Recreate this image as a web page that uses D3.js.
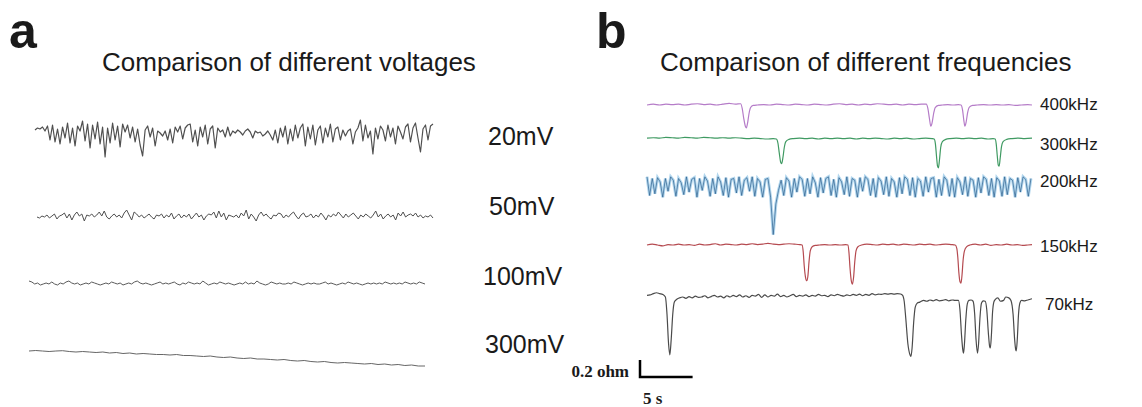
<!DOCTYPE html>
<html>
<head>
<meta charset="utf-8">
<script src="https://cdn.jsdelivr.net/npm/d3@7"></script>
<style>
  body { margin: 0; background: #fff; }
  text { font-family: Arial, "Liberation Sans", sans-serif; fill: #1a1a1a; }
  .serif { font-family: "Times New Roman", "Liberation Serif", serif; font-weight: bold; }
</style>
</head>
<body>
<div id="chart"></div>
<script>
// ---- panel a : voltage comparison (arbitrary units, positive = up) ----
const voltageLabels = ["20mV", "50mV", "100mV", "300mV"];

const trace20mV = [
  4, 6, 5, 7, 3, 8, -6, 9, -8, 5,
  -10, 7, -4, 11, -9, 6, -12, 8, 3, 13,
  -7, 10, -14, 9, -5, 12, -10, 7, -23, 6,
  -9, 11, -6, 8, -13, 10, 2, 9, -4, 7,
  -8, 5, -11, -22, 4, 8, -3, 6, -12, 3,
  1, -2, 3, -6, 5, -9, 7, 2, 8, -5,
  6, 9, 10, -8, 4, -12, 7, -3, 9, -10,
  5, 8, -14, 6, 2, 4, -3, 7, -2, 3,
  1, 4, 2, -1, 3, 5, 2, -4, 3, 1,
  2, -2, 0, 3, -1, -6, 4, -9, 6, -3,
  8, -10, 5, -7, 9, -4, 6, 10, -12, 7,
  -5, 9, -11, 4, 8, -9, 6, -3, 10, -8,
  5, 7, -6, 4, -2, 3, 5, -10, 2, 6,
  14, -7, 9, -4, 3, -20, 6, -5, 8, 4,
  -7, 9, -3, 6, -10, 8, 2, -5, 7, 10,
  -8, 6, 11, -4, -18, 5, 9, -6, 8, 10
];

const trace50mV = [
  0, -1, 1, 0, 2, -1, 1, 3, -2, 1,
  2, 4, -1, 3, -3, 2, 5, 1, 3, -4,
  2, 1, 3, 0, 2, 5, 1, 6, 0, -2,
  1, 3, 0, 2, -1, 4, 7, 2, -3, 5,
  3, 0, 2, -1, 1, 3, 0, -2, 2, 1,
  3, -1, 2, 0, 4, -2, 1, 3, -1, 2,
  0, 3, -2, 1, 4, 0, 2, -3, 1, 3,
  2, 5, -1, 6, 0, 4, -3, 2, 1, 0,
  2, -1, 4, 1, 7, -2, 3, 0, -4, 2,
  5, 1, 3, 0, -2, 2, 1, 4, 3, -1,
  2, 0, 3, 5, 1, -2, 2, 4, 0, 1,
  3, -1, 2, 0, 4, 1, -3, 2, 0, 3,
  1, 5, 2, -1, 3, 0, 2, 4, 1, -2,
  2, 0, 3, 1, -1, 2, 6, 0, 3, -2,
  1, 3, 0, 2, -3, 4, 1, 5, 0, 2,
  3, 1, 4, 0, 2, -1, 1, 0, 2, -1
];

const trace100mV = [
  3, 2, 0, 1, -1, 0, 1, 0, 2, 0,
  -1, 1, 0, 2, 3, 1, 0, 1, -1, 0,
  1, 0, 2, 1, 0, -1, 0, 1, 0, 2,
  1, 0, 1, -1, 0, 1, 0, 2, 3, 1,
  0, 1, 0, -1, 0, 1, 2, 0, 1, 0,
  1, 2, 0, -1, 1, 0, 2, 1, 0, 1,
  0, 3, 1, -1, 0, 1, 0, 2, 1, 0,
  1, 0, -1, 0, 1, 0, 2, 0, 1, 0,
  3, 1, 0, -1, 0, 2, 1, 0, 1, 0,
  0, 1, 0, 2, 1, 0, -1, 0, 1, 0,
  1, 0, 0, 1, 2, 0, 1, 0, -1, 0,
  1, 0, 2, 1, 0, 1, 0, -1, 0, 1,
  0, 1, 0, 1, 0, 2, 1, 0, 1, 0,
  1, 0, 2, 1, 0, 1, 0, 2, 1, 0
];

const trace300mV = [
  0, 0.5, 0, -0.5, 0, 0.3, -0.5, -1, -0.5, -1,
  -1.5, -1, -2, -1.5, -2.5, -2, -3, -2.5, -3, -3.5,
  -3.5, -4, -3.5, -4.5, -4.5, -5, -5.5, -5, -6, -6.5,
  -6, -7, -7.5, -7, -8, -8, -8.5, -9, -8.5, -9.5,
  -10, -9.5, -10.5, -11, -10.5, -11.5, -12, -11.5, -12, -12.5,
  -13, -12.5, -13.5, -13, -14, -13.5, -14.5, -14, -15, -15
];

// ---- panel b : frequency comparison, [time s, resistance change ohm] ----
const frequencyLabels = ["400kHz", "300kHz", "200kHz", "150kHz", "70kHz"];

const trace400kHz = [
  [0,0],[0.6,0.01],[1.2,0],[1.8,0.01],[2.4,0.005],[3.0,0.01],[3.6,0],[4.2,0.01],[4.8,0.015],[5.4,0.005],
  [6.0,0.01],[6.6,0],[7.2,0.01],[7.8,0.02],[8.4,0.01],[8.9,0.015],
  [9.05,-0.04],[9.2,-0.16],[9.35,-0.25],[9.45,-0.27],[9.55,-0.22],[9.7,-0.1],[9.85,-0.03],[10.1,-0.005],[10.5,0],
  [11.1,0.005],[11.7,0],[12.3,0.01],[12.9,0.005],[13.5,0],[14.1,0.01],[14.7,0.005],[15.3,0],[15.9,0.01],[16.5,0.005],
  [17.1,0],[17.7,0.01],[18.3,0.015],[18.9,0.005],[19.5,0.01],[20.1,0],[20.7,0.01],[21.3,0.005],[21.9,0.015],[22.5,0.01],
  [23.1,0.005],[23.7,0.01],[24.3,0],[24.9,0.01],[25.5,0.005],[26.1,0.01],[26.55,0.01],
  [26.7,-0.04],[26.85,-0.16],[26.98,-0.25],[27.1,-0.21],[27.25,-0.1],[27.4,-0.03],[27.7,-0.005],[28.1,0],[28.6,0.005],
  [29.1,0],[29.6,0.005],[29.85,0],
  [30.0,-0.06],[30.12,-0.18],[30.22,-0.25],[30.34,-0.2],[30.48,-0.09],[30.65,-0.025],[30.95,-0.005],[31.4,0],
  [32.0,0.005],[32.6,0],[33.2,0.005],[33.8,0],[34.4,0.005],[35.0,-0.005],[35.6,0],[36.2,0.005],[36.6,0]
];

const trace300kHz = [
  [0,0.01],[0.6,0.015],[1.2,0.01],[1.8,0.02],[2.4,0.015],[3.0,0.01],[3.6,0.02],[4.2,0.015],[4.8,0.01],[5.4,0.02],
  [6.0,0.015],[6.6,0.01],[7.2,0.015],[7.8,0.01],[8.4,0.015],[9.0,0.01],[9.6,0.005],[10.2,0.01],[10.8,0.005],[11.4,0],
  [12.0,0.005],[12.3,0],
  [12.45,-0.05],[12.58,-0.17],[12.7,-0.27],[12.8,-0.29],[12.92,-0.22],[13.05,-0.1],[13.2,-0.03],[13.5,-0.005],[13.9,0.005],
  [14.5,0.01],[15.1,0.005],[15.7,0.01],[16.3,0],[16.9,0.01],[17.5,0.005],[18.1,0.01],[18.7,0.005],[19.3,0.01],[19.9,0],
  [20.5,0.01],[21.1,0.005],[21.7,0.01],[22.3,0.005],[22.9,0],[23.5,0.01],[24.1,0.005],[24.7,0.01],[25.3,0],[25.9,0.005],
  [26.5,0.01],[27.1,0.005],[27.3,0],
  [27.42,-0.06],[27.52,-0.2],[27.62,-0.32],[27.7,-0.34],[27.8,-0.25],[27.92,-0.1],[28.08,-0.03],[28.4,-0.005],[28.8,0.005],
  [29.4,0.01],[30.0,0.005],[30.6,0.01],[31.2,0.005],[31.8,0.01],[32.4,0],[32.9,0.005],[33.1,0],
  [33.2,-0.06],[33.3,-0.2],[33.4,-0.31],[33.48,-0.32],[33.58,-0.22],[33.7,-0.09],[33.85,-0.03],[34.2,-0.005],[34.7,0.005],
  [35.3,0.01],[35.9,0.005],[36.6,0.01]
];

// 200kHz is sampled every 0.25 s
const step200kHz = 0.25;
const trace200kHz = [
  0.12, -0.1, 0.1, -0.08, 0.11, 0.06, -0.12, 0.1, -0.05, 0.12,
  0.08, -0.11, 0.1, 0.05, -0.09, 0.12, -0.06, 0.09, 0.11, -0.12,
  0.1, -0.04, 0.12, 0.07, -0.11, 0.1, -0.08, 0.12, 0.06, -0.1,
  0.11, -0.12, 0.09, 0.1, -0.07, 0.12, -0.1, 0.08, 0.11, -0.05,
  0.12, -0.11, 0.1, 0.06, -0.12, 0.09, 0.1, -0.12, -0.56, -0.2,
  -0.04, 0.08, -0.1, 0.11, 0.07, -0.12, 0.1, -0.06, 0.12, 0.09,
  -0.11, 0.1, -0.08, 0.12, 0.05, -0.12, 0.11, -0.07, 0.1, 0.12,
  -0.1, 0.09, -0.12, 0.11, 0.06, -0.09, 0.12, -0.11, 0.1, 0.08,
  -0.12, 0.11, -0.05, 0.12, 0.09, -0.1, 0.1, -0.12, 0.11, 0.07,
  -0.09, 0.12, -0.11, 0.1, 0.06, -0.12, 0.11, -0.08, 0.12, 0.09,
  -0.1, 0.11, -0.12, 0.1, 0.07, -0.11, 0.12, -0.06, 0.1, 0.11,
  -0.12, 0.09, -0.1, 0.12, 0.08, -0.11, 0.1, -0.12, 0.11, 0.06,
  -0.09, 0.12, -0.11, 0.1, 0.08, -0.12, 0.11, -0.07, 0.12, 0.09,
  -0.1, 0.1, -0.12, 0.11, 0.07, -0.11, 0.12, -0.09, 0.1, 0.08,
  -0.12, 0.11, -0.06, 0.12, 0.09, -0.11, 0.1
];

const trace150kHz = [
  [0,0],[0.5,0.01],[1.0,0],[1.5,-0.01],[2.0,0.005],[2.5,0],[3.0,0.01],[3.5,0],[4.0,0.005],[4.5,-0.005],
  [5.0,0.01],[5.5,0],[6.0,0.005],[6.5,0.015],[7.0,0],[7.5,0.01],[8.0,0.005],[8.5,0],[9.0,0.01],[9.5,0.005],
  [10.0,0.015],[10.5,0.005],[11.0,0.01],[11.5,0.02],[12.0,0.01],[12.5,0.005],[13.0,0.01],[13.5,0.015],[14.0,0.01],[14.5,0.005],
  [14.75,0],
  [14.85,-0.08],[14.95,-0.25],[15.07,-0.38],[15.19,-0.42],[15.3,-0.36],[15.4,-0.2],[15.52,-0.07],[15.7,-0.02],[16.0,-0.005],
  [16.4,0],[16.9,0.005],[17.4,0],[17.9,0.005],[18.4,0],[18.9,0.005],[19.1,0],
  [19.2,-0.09],[19.3,-0.27],[19.42,-0.42],[19.53,-0.46],[19.64,-0.38],[19.75,-0.2],[19.87,-0.07],[20.05,-0.02],[20.4,0],
  [20.9,0.01],[21.4,0.005],[21.9,0],[22.4,0.01],[22.9,0.005],[23.4,0.01],[23.9,0],[24.4,0.01],[24.9,0.005],[25.4,0],
  [25.9,0.01],[26.4,0.005],[26.9,0.01],[27.4,0],[27.9,0.005],[28.4,0.01],[28.9,0.005],[29.3,0],[29.45,-0.04],
  [29.55,-0.15],[29.65,-0.33],[29.75,-0.43],[29.85,-0.45],[29.95,-0.35],[30.05,-0.18],[30.18,-0.07],[30.4,-0.02],[30.7,0],
  [31.2,0.01],[31.7,0],[32.2,0.01],[32.7,-0.005],[33.2,0.005],[33.7,0],[34.2,0.01],[34.7,0],[35.2,0.005],[35.7,-0.005],
  [36.2,0],[36.6,0.005]
];

const trace70kHz = [
  [0,0.02],[0.3,0.025],[0.6,0.04],[0.9,0.05],[1.2,0.04],[1.5,0.03],[1.75,0],
  [1.9,-0.2],[2.05,-0.55],[2.17,-0.68],[2.3,-0.5],[2.45,-0.2],[2.6,-0.06],[2.8,-0.03],[3.1,-0.01],
  [3.4,0],[3.7,-0.015],[4.0,0.005],[4.3,-0.01],[4.6,0.01],[4.9,-0.005],[5.2,0],[5.5,0.015],[5.8,-0.01],[6.1,0.005],
  [6.4,0.02],[6.7,0],[7.0,0.01],[7.3,-0.01],[7.6,0.015],[7.9,0],[8.2,0.02],[8.5,0.005],[8.8,0.025],[9.1,0],
  [9.4,0.015],[9.7,-0.005],[10.0,0.02],[10.3,0.01],[10.6,0.03],[10.9,-0.005],[11.2,0.025],[11.5,0],[11.8,0.02],[12.1,0.01],
  [12.4,0.035],[12.7,0.005],[13.0,0.02],[13.3,0],[13.6,0.015],[13.9,0.03],[14.2,0.005],[14.5,0.02],[14.8,0.01],[15.1,0.025],
  [15.4,0.005],[15.7,0.02],[16.0,0.01],[16.3,0.03],[16.6,0.015],[16.9,0.02],[17.2,0.005],[17.5,0.025],[17.8,0.015],[18.1,0.03],
  [18.4,0.02],[18.7,0.01],[19.0,0.025],[19.3,0.015],[19.6,0.03],[19.9,0.02],[20.2,0.035],[20.5,0.015],[20.8,0.03],[21.1,0.02],
  [21.4,0.04],[21.7,0.025],[22.0,0.035],[22.3,0.03],[22.6,0.04],[22.9,0.035],[23.2,0.04],[23.5,0.035],[23.8,0.04],[24.1,0.035],
  [24.3,0.02],
  [24.45,-0.05],[24.6,-0.25],[24.8,-0.55],[25.0,-0.68],[25.09,-0.7],[25.2,-0.6],[25.35,-0.3],[25.5,-0.12],[25.7,-0.07],[25.94,-0.06],
  [26.3,-0.04],[26.6,-0.05],[26.9,-0.035],[27.2,-0.045],[27.5,-0.03],[27.8,-0.045],[28.1,-0.04],[28.4,-0.03],[28.7,-0.045],[29.0,-0.035],
  [29.3,-0.04],[29.6,-0.04],
  [29.75,-0.15],[29.9,-0.45],[30.02,-0.62],[30.09,-0.66],[30.18,-0.55],[30.3,-0.28],[30.45,-0.08],[30.6,-0.04],[30.8,-0.035],[31.0,-0.05],
  [31.15,-0.2],[31.28,-0.5],[31.42,-0.66],[31.52,-0.55],[31.65,-0.25],[31.8,-0.07],[31.98,-0.045],[32.15,-0.05],
  [32.3,-0.15],[32.45,-0.42],[32.57,-0.58],[32.64,-0.6],[32.74,-0.45],[32.85,-0.18],[32.97,-0.06],[33.1,-0.03],[33.35,-0.01],[33.6,-0.05],
  [33.9,-0.04],[34.1,0],[34.4,-0.01],[34.6,-0.04],
  [34.8,-0.2],[34.95,-0.5],[35.05,-0.62],[35.1,-0.635],[35.2,-0.5],[35.32,-0.2],[35.45,-0.07],[35.6,-0.04],[35.9,-0.045],[36.2,-0.035],
  [36.6,-0.02]
];

// scale bar values
const scaleBarOhm = 0.2;
const scaleBarSec = 5;

const width = 1142, height = 407;

const svg = d3.select("#chart")
    .append("svg")
    .attr("width", width)
    .attr("height", height);

// panel letters + titles
svg.append("text").attr("x", 9).attr("y", 48)
    .style("font-size", "50px").style("font-weight", "bold").text("a");
svg.append("text").attr("x", 596).attr("y", 48)
    .style("font-size", "50px").style("font-weight", "bold").text("b");
svg.append("text").attr("x", 102).attr("y", 71)
    .style("font-size", "26px").text("Comparison of different voltages");
svg.append("text").attr("x", 660).attr("y", 71)
    .style("font-size", "26px").text("Comparison of different frequencies");

// ---------- panel a ----------
const ampScale = d3.scaleLinear().domain([-30, 30]).range([30, -30]);

const rowsA = [
    { data: trace20mV, x0: 35, x1: 433, y: 134, labelY: 145, labelX: 488, color: "#505050", w: 1.2 },
    { data: trace50mV, x0: 37, x1: 433, y: 217, labelY: 215, labelX: 489, color: "#505050", w: 1 },
    { data: trace100mV, x0: 29, x1: 425, y: 284, labelY: 285, labelX: 483, color: "#5a5a5a", w: 1 },
    { data: trace300mV, x0: 29, x1: 425, y: 351, labelY: 353, labelX: 485, color: "#666", w: 1 }
];

rowsA.forEach((row, i) => {
    const x = d3.scaleLinear().domain([0, row.data.length - 1]).range([row.x0, row.x1]);
    const line = d3.line()
        .x((d, j) => x(j))
        .y(d => row.y + ampScale(d));
    svg.append("path")
        .datum(row.data)
        .attr("d", line)
        .attr("fill", "none")
        .attr("stroke", row.color)
        .attr("stroke-width", row.w)
        .attr("stroke-linejoin", "round");
    svg.append("text")
        .attr("x", row.labelX).attr("y", row.labelY)
        .style("font-size", "25px")
        .text(voltageLabels[i]);
});

// ---------- panel b ----------
const tScale = d3.scaleLinear().domain([0, 36.6]).range([647, 1032]);
const ohmScale = d3.scaleLinear().domain([0, 1]).range([0, 85]);

const rowsB = [
    { data: trace400kHz, y: 105, labelY: 110, color: "#b57cc8" },
    { data: trace300kHz, y: 139, labelY: 150, color: "#3f9a62" },
    { data: trace200kHz.map((v, j) => [j * step200kHz, v]), y: 187, labelY: 187, color: "#2c5f8c", under: "#b3d7ee" },
    { data: trace150kHz, y: 245, labelY: 252, color: "#b54a50" },
    { data: trace70kHz, y: 297, labelY: 310, color: "#4a4a4a", labelX: 1045 }
];

rowsB.forEach((row, i) => {
    const line = d3.line()
        .x(d => tScale(d[0]))
        .y(d => row.y - ohmScale(d[1]))
        .curve(row.under ? d3.curveLinear : d3.curveMonotoneX);
    if (row.under) {
        svg.append("path")
            .datum(row.data)
            .attr("d", line)
            .attr("fill", "none")
            .attr("stroke", row.under)
            .attr("stroke-width", 3);
    }
    svg.append("path")
        .datum(row.data)
        .attr("d", line)
        .attr("fill", "none")
        .attr("stroke", row.color)
        .attr("stroke-width", row.under ? 0.7 : 1.2)
        .attr("stroke-linejoin", "round");
    svg.append("text")
        .attr("x", row.labelX || 1040).attr("y", row.labelY)
        .style("font-size", "17px")
        .text(frequencyLabels[i]);
});

// scale bar
const barX = 640, barY = 377;
const barW = tScale(scaleBarSec) - tScale(0);
const barH = ohmScale(scaleBarOhm);
svg.append("path")
    .attr("d", `M${barX},${barY - barH}V${barY}H${barX + barW}`)
    .attr("fill", "none")
    .attr("stroke", "#000")
    .attr("stroke-width", 2.5);
svg.append("text").attr("class", "serif")
    .attr("x", 629).attr("y", barY)
    .attr("text-anchor", "end")
    .style("font-size", "17px")
    .text(scaleBarOhm + " ohm");
svg.append("text").attr("class", "serif")
    .attr("x", 643).attr("y", 404)
    .style("font-size", "17px")
    .text(scaleBarSec + " s");
</script>
</body>
</html>
